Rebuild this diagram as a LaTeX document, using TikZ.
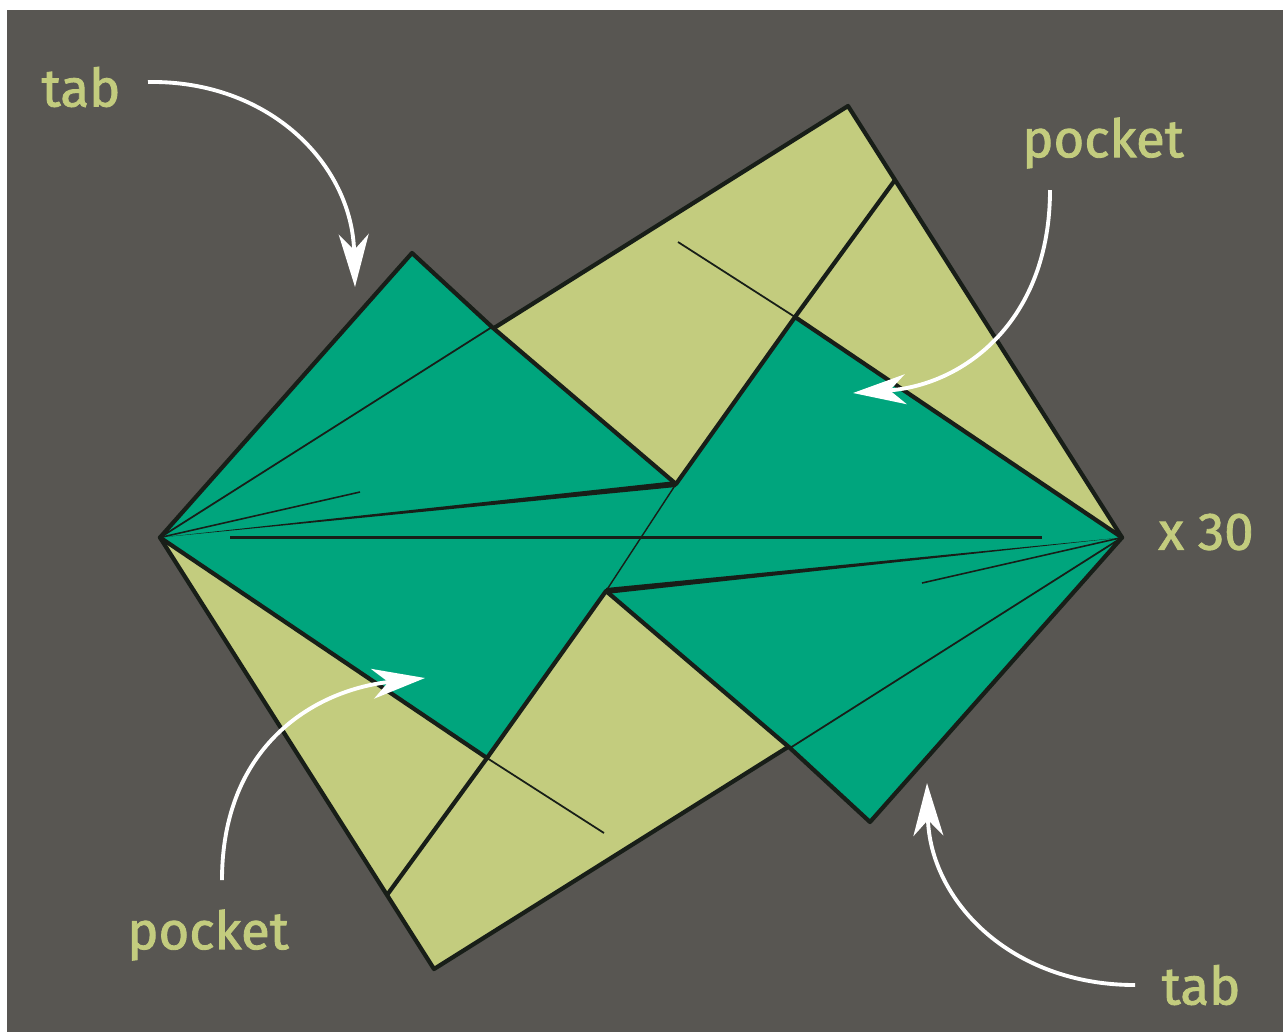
\documentclass[tikz,border=0pt]{standalone}
\usepackage{fontspec}
\setmainfont{Fira Sans}[FakeBold=1.6]
\usepackage{tikz}
\usetikzlibrary{arrows.meta}
\definecolor{bg}{RGB}{88,86,82}
\definecolor{paper}{RGB}{195,204,126}
\definecolor{flap}{RGB}{0,165,125}
\definecolor{edge}{RGB}{24,30,24}
\tikzset{
  font={\fontsize{30pt}{32pt}\selectfont}}

\begin{document}
\begin{tikzpicture}[x=0.02cm,y=-0.02cm]
\tikzstyle{every node}+=[inner sep=0pt, text=paper]
\tikzstyle{fold}=[draw=edge, line width=2.4pt, line join=round]
\tikzstyle{crease}=[draw=edge, line width=1pt]
\tikzstyle{pointer}=[draw=white, line width=2.2pt, -{Stealth[length=30pt,width=17pt,inset=9pt]}]
\useasboundingbox (0,0) rectangle (1283,1032);
\fill [white] (0,0) rectangle (1283,1032);
\fill [bg] (7,10) rectangle (1283,1032);
% corners of the square and of the two flaps
\coordinate (L) at (160,537.5);
\coordinate (R) at (1122,537.5);
\coordinate (T) at (848,106);
\coordinate (B) at (434,969);
\coordinate (K) at (412,253);
\coordinate (Q) at (870,822);
\coordinate (A) at (492,327);
\coordinate (S) at (790,748);
\coordinate (N) at (676,484);
\coordinate (P) at (606,591);
\coordinate (U) at (795,317);
\coordinate (M) at (487,758);
\coordinate (V) at (895,180);
\coordinate (W) at (387,895);
\coordinate (E1) at (678,242);
\coordinate (E2) at (604,833);
\coordinate (H1) at (230,537.5);
\coordinate (H2) at (1042,537.5);
\coordinate (D1) at (360,492);
\coordinate (D2) at (922,583);
% the square
\filldraw [fold, fill=paper] (L) -- (T) -- (R) -- (B) -- cycle;
\draw [fold] (V) -- (U);
\draw [fold] (M) -- (W);
\draw [crease] (E1) -- (U);
\draw [crease] (M) -- (E2);
% the flaps
\filldraw [fold, fill=flap] (L) -- (K) -- (A) -- (N) -- (U) -- (R) -- (Q) -- (S) -- (P) -- (M) -- cycle;
\draw [crease, line width=0.8pt] (N) -- (P);
\draw [crease] (L) -- (A);
\draw [crease] (R) -- (S);
\draw [crease, line width=0.9pt] (L) -- (D1);
\draw [crease, line width=0.9pt] (R) -- (D2);
\draw [crease, line width=1.4pt] (H1) -- (H2);
\fill [edge] (L) -- ([shift={(0,-3)}]N) -- ([shift={(0,3)}]N) -- cycle;
\fill [edge] (R) -- ([shift={(0,-3)}]P) -- ([shift={(0,3)}]P) -- cycle;
% labels
\node (tabL) at (81,87) {tab};
\node (pocketR) at (1103,143) {pocket};
\node (times) at (1206,532) {x 30};
\node (pocketL) at (208,935) {pocket};
\node (tabR) at (1201,985) {tab};
\coordinate (t1) at (148,82);
\coordinate (t2) at (1050,190);
\coordinate (t3) at (222,880);
\coordinate (t4) at (1135,985);
\coordinate (h1) at (355,287);
\coordinate (h2) at (853,393);
\coordinate (h3) at (425,678);
\coordinate (h4) at (927,783);
\draw [pointer] (t1) .. controls (270,80) and (352,165) .. (h1);
\draw [pointer] (t2) .. controls (1050,320) and (965,385) .. (h2);
\draw [pointer] (t3) .. controls (222,745) and (315,690) .. (h3);
\draw [pointer] (t4) .. controls (1010,985) and (930,900) .. (h4);
\end{tikzpicture}
\end{document}
